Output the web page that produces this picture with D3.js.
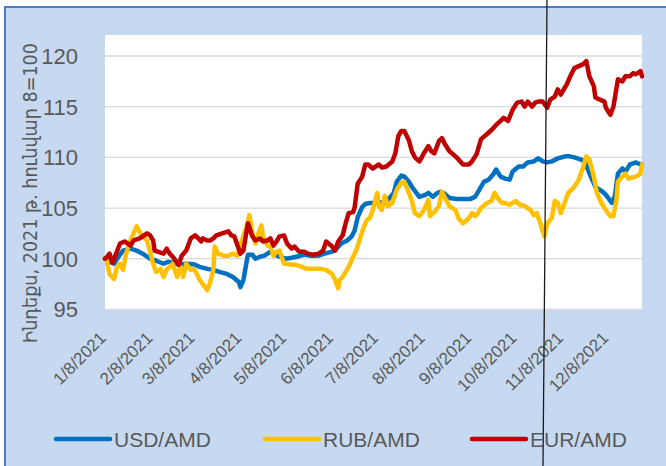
<!DOCTYPE html>
<html><head><meta charset="utf-8">
<script src="https://cdn.jsdelivr.net/npm/d3@7"></script>
<style>body{margin:0;background:#fff}svg{display:block}</style>
</head><body><svg id="c" width="666" height="466"></svg>
<script>
const yTicks = [95, 100, 105, 110, 115, 120];
const xTickLabels = ["1/8/2021","2/8/2021","3/8/2021","4/8/2021","5/8/2021","6/8/2021","7/8/2021","8/8/2021","9/8/2021","10/8/2021","11/8/2021","12/8/2021"];
const seriesNames = ["USD/AMD", "RUB/AMD", "EUR/AMD"];
const yTitle = "Ինդեքս, 2021 թ. հունվար 8=100";

const usdDates = ["01-08","01-09","01-11","01-14","01-17","01-20","01-25","01-29","02-02","02-07","02-11","02-16","02-19","02-24","02-27","03-03","03-08","03-12","03-17","03-21","03-25","03-30","04-03","04-07","04-08","04-10","04-13","04-16","04-18","04-21","04-24","04-28","05-01","05-04","05-08","05-12","05-17","05-21","05-25","05-30","06-03","06-08","06-11","06-14","06-18","06-21","06-23","06-25","06-28","06-30","07-03","07-08","07-12","07-15","07-19","07-21","07-24","07-26","07-29","07-31","08-03","08-05","08-09","08-11","08-14","08-17","08-19","08-21","08-25","08-30","09-03","09-08","09-11","09-13","09-17","09-20","09-23","09-25","09-28","10-01","10-04","10-06","10-10","10-13","10-16","10-20","10-23","10-26","10-29","11-01","11-05","11-10","11-13","11-16","11-20","11-23","11-25","11-27","11-30","12-03","12-05","12-07","12-11","12-13","12-15","12-18","12-20","12-23","12-27","12-30","12-31"];
const usdValues = [100.0,100.0,99.7,99.5,100.2,100.8,101.0,100.8,100.5,100.0,99.8,99.5,99.7,99.5,99.4,99.5,99.45,99.2,99.0,98.9,98.7,98.5,98.2,97.7,97.2,97.9,100.4,100.4,100.0,100.2,100.3,100.7,100.4,100.2,100.0,100.1,100.25,100.4,100.3,100.3,100.5,100.7,101.0,101.5,101.8,102.2,102.8,104.1,105.1,105.4,105.5,105.5,105.6,105.8,106.5,107.6,108.2,108.1,107.6,107.1,106.5,106.1,106.3,106.5,106.1,106.5,106.6,106.5,106.0,105.9,105.9,105.9,106.1,106.6,107.6,107.8,108.3,108.8,108.1,107.9,107.8,108.6,109.1,109.1,109.5,109.6,109.9,109.6,109.5,109.6,109.9,110.1,110.1,110.0,109.8,109.6,108.8,108.1,107.1,106.8,106.6,106.3,105.5,106.2,108.4,108.9,108.6,109.3,109.5,109.3,109.3];

const rubDates = ["01-08","01-09","01-11","01-14","01-16","01-18","01-20","01-22","01-25","01-27","01-29","01-31","02-02","02-05","02-07","02-09","02-11","02-14","02-16","02-18","02-20","02-22","02-25","02-27","03-01","03-03","03-06","03-08","03-10","03-12","03-14","03-17","03-19","03-21","03-22","03-24","03-28","03-31","04-03","04-06","04-09","04-12","04-14","04-16","04-18","04-20","04-22","04-23","04-26","04-28","04-30","05-02","05-04","05-07","05-09","05-12","05-15","05-19","05-22","05-26","05-31","06-04","06-08","06-10","06-12","06-13","06-15","06-19","06-22","06-24","06-27","06-29","07-01","07-03","07-05","07-08","07-09","07-11","07-13","07-15","07-18","07-21","07-24","07-26","07-29","07-31","08-02","08-05","08-08","08-11","08-12","08-15","08-18","08-20","08-22","08-25","08-29","08-31","09-03","09-07","09-09","09-11","09-13","09-15","09-19","09-22","09-24","09-27","09-29","10-01","10-04","10-08","10-11","10-14","10-18","10-20","10-22","10-24","10-27","10-29","11-01","11-03","11-05","11-07","11-10","11-12","11-14","11-16","11-19","11-22","11-24","11-26","11-29","12-01","12-04","12-07","12-10","12-12","12-14","12-15","12-18","12-20","12-22","12-24","12-27","12-30","12-31"];
const rubValues = [100.0,99.9,98.5,98.0,99.2,99.5,98.9,100.5,101.8,102.5,103.2,102.6,102.2,101.8,100.7,99.5,98.7,99.0,98.2,98.9,99.2,99.5,98.2,99.2,98.2,99.5,98.9,99.0,98.5,97.9,97.5,96.9,97.7,98.9,101.2,100.5,100.3,100.3,100.5,100.3,101.8,103.1,104.3,102.5,101.5,102.5,103.3,102.2,101.3,101.2,100.3,100.7,100.8,99.5,99.5,99.4,99.4,99.2,99.0,99.0,99.0,98.9,98.5,97.9,97.1,97.9,98.2,99.2,100.2,100.8,102.2,103.1,103.8,104.0,104.8,106.5,105.2,104.8,106.2,105.2,105.5,106.8,107.5,107.6,106.5,105.7,104.5,104.2,104.8,105.8,104.2,104.6,105.2,106.6,106.0,105.2,104.8,104.0,103.5,104.0,104.5,104.2,104.5,105.0,105.5,105.7,106.5,105.8,105.5,105.5,105.3,105.7,105.3,105.2,104.8,104.3,104.5,103.7,102.2,103.5,104.0,105.7,105.5,104.5,105.7,106.5,106.8,107.1,107.8,109.1,110.1,109.8,108.1,106.5,105.5,104.8,104.2,104.2,105.8,107.6,108.1,108.4,107.9,108.0,108.1,108.4,109.3];

const eurDates = ["01-08","01-09","01-11","01-13","01-18","01-21","01-25","01-27","01-31","02-05","02-07","02-09","02-10","02-12","02-16","02-18","02-20","02-22","02-26","02-28","03-03","03-06","03-09","03-11","03-13","03-14","03-17","03-19","03-21","03-23","03-27","03-31","04-02","04-04","04-08","04-10","04-13","04-16","04-18","04-21","04-23","04-26","04-28","04-30","05-02","05-04","05-07","05-09","05-12","05-14","05-17","05-20","05-23","05-26","05-30","06-02","06-04","06-08","06-10","06-12","06-15","06-17","06-19","06-22","06-23","06-25","06-28","06-30","07-02","07-05","07-09","07-11","07-14","07-18","07-20","07-22","07-24","07-26","07-29","07-31","08-02","08-05","08-08","08-11","08-13","08-15","08-18","08-20","08-22","08-25","08-29","08-31","09-03","09-07","09-09","09-12","09-15","09-19","09-22","09-25","09-28","09-30","10-03","10-06","10-09","10-12","10-14","10-16","10-19","10-21","10-23","10-26","10-29","10-31","11-03","11-05","11-07","11-11","11-13","11-16","11-19","11-22","11-24","11-26","11-29","11-30","12-03","12-06","12-07","12-10","12-12","12-15","12-18","12-20","12-23","12-25","12-27","12-30","12-31"];
const eurValues = [100.0,100.1,100.5,99.6,101.5,101.7,101.3,101.8,102.0,102.5,102.3,101.8,100.8,100.7,100.5,101.0,100.5,100.2,99.4,100.3,100.8,102.0,102.3,102.0,101.7,102.0,101.8,101.8,102.0,102.3,102.5,102.7,102.3,102.2,100.5,100.8,103.5,102.2,101.8,102.0,101.7,101.8,102.0,101.3,101.7,102.2,102.3,101.5,101.0,101.2,100.7,100.7,100.5,100.4,100.5,100.8,101.7,101.2,100.8,101.7,102.3,103.5,104.5,104.6,105.1,107.4,108.1,109.3,109.3,108.9,109.3,109.0,109.1,109.6,110.4,112.1,112.6,112.6,111.7,110.6,110.0,109.6,110.4,111.1,110.6,110.4,111.6,111.9,111.3,110.6,110.1,109.8,109.3,109.3,109.6,110.3,111.8,112.3,112.7,113.2,113.6,113.9,113.6,114.7,115.4,115.5,115.0,115.5,115.0,115.4,115.5,115.5,114.9,115.7,116.0,116.7,116.2,117.2,117.9,118.8,119.0,119.2,119.5,118.0,117.0,115.9,115.7,115.5,114.9,114.2,115.0,117.7,117.5,118.0,118.0,118.3,118.2,118.5,118.0];

const colors = ["#0070C0", "#FFC000", "#C00000"];
const parse = d3.timeParse("%Y-%m-%d");
const parseLabel = d3.timeParse("%m/%d/%Y");

const svg = d3.select("#c");
const font = "'Liberation Sans', Arial, 'DejaVu Sans', sans-serif";
const textColor = "#595959";

// background frame
svg.append("rect").attr("x", 4).attr("y", 6).attr("width", 662).attr("height", 460).attr("fill", "#C6D9F0");
svg.append("line").attr("x1", 5).attr("x2", 5).attr("y1", 6).attr("y2", 466).attr("stroke", "#4A7CC9").attr("stroke-width", 2);
svg.append("line").attr("x1", 4).attr("x2", 666).attr("y1", 7).attr("y2", 7).attr("stroke", "#4A7CC9").attr("stroke-width", 2);

const plot = {left: 105, right: 642, top: 35, bottom: 310};
svg.append("rect").attr("x", plot.left).attr("y", plot.top).attr("width", plot.right - plot.left).attr("height", plot.bottom - plot.top).attr("fill", "#fff");

const x = d3.scaleTime().domain([parse("2021-01-08"), parse("2021-12-31")]).range([plot.left, plot.right]);
const y = d3.scaleLinear().domain([95, 120]).range([309.4, 56]);

// gridlines
svg.append("g").selectAll("line").data(yTicks).join("line")
  .attr("x1", plot.left).attr("x2", plot.right)
  .attr("y1", d => y(d)).attr("y2", d => y(d))
  .attr("stroke", "#D9D9D9").attr("stroke-width", 1.3);

// y labels
svg.append("g").selectAll("text").data(yTicks).join("text")
  .attr("x", 78).attr("y", d => y(d)).attr("dy", "0.36em")
  .attr("text-anchor", "end").attr("font-family", font).attr("font-size", 22)
  .attr("fill", textColor).text(d => d);

// y title
svg.append("text")
  .attr("transform", "translate(37,193) rotate(-90)")
  .attr("text-anchor", "middle").attr("font-family", "'DejaVu Sans', sans-serif").attr("font-size", 19)
  .attr("textLength", 300).attr("lengthAdjust", "spacingAndGlyphs")
  .attr("fill", textColor).text(yTitle);

// x labels
svg.append("g").selectAll("text").data(xTickLabels).join("text")
  .attr("transform", d => `translate(${x(parseLabel(d)) + 2},339) rotate(-45)`)
  .attr("text-anchor", "end").attr("font-family", font).attr("font-size", 17)
  .attr("fill", textColor).text(d => d);

// lines
const series = [
  {dates: usdDates, values: usdValues},
  {dates: rubDates, values: rubValues},
  {dates: eurDates, values: eurValues}
];
const line = d3.line().x(d => x(d[0])).y(d => y(d[1]));
series.forEach((s, i) => {
  const pts = s.dates.map((d, j) => [parse("2021-" + d), s.values[j]]);
  svg.append("path").datum(pts).attr("d", line)
    .attr("fill", "none").attr("stroke", colors[i]).attr("stroke-width", 4.5)
    .attr("stroke-linejoin", "round").attr("stroke-linecap", "round");
});

// legend
const legendX = [56, 265, 472];
const lg = svg.append("g");
seriesNames.forEach((n, i) => {
  lg.append("line").attr("x1", legendX[i]).attr("x2", legendX[i] + 54).attr("y1", 439).attr("y2", 439)
    .attr("stroke", colors[i]).attr("stroke-width", 4.5).attr("stroke-linecap", "round");
  lg.append("text").attr("x", legendX[i] + 58).attr("y", 439).attr("dy", "0.36em")
    .attr("font-family", font).attr("font-size", 21).attr("fill", textColor).text(n);
});

// vertical black line across the picture
svg.append("line").attr("x1", 547).attr("y1", 0).attr("x2", 543).attr("y2", 466)
  .attr("stroke", "#1a1a1a").attr("stroke-width", 1.3);
</script></body></html>
